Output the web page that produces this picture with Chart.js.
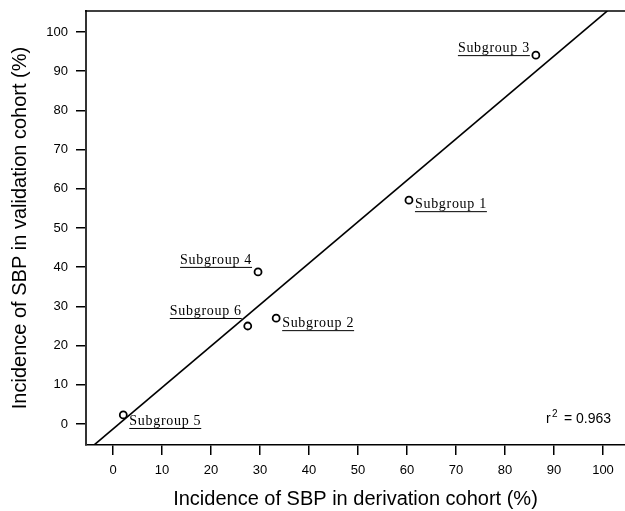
<!DOCTYPE html>
<html>
<head>
<meta charset="utf-8">
<script src="https://cdn.jsdelivr.net/npm/chart.js@4/dist/chart.umd.min.js"></script>
<style>
  body { margin: 0; background: #fff; overflow: hidden; }
  canvas { display: block; }
</style>
</head>
<body>
<canvas id="scatterChart" width="625" height="511"></canvas>
<script>
// Data
const subgroups = ["Subgroup 1", "Subgroup 2", "Subgroup 3", "Subgroup 4", "Subgroup 5", "Subgroup 6"];
const derivation = [60.4, 33.3, 86.3, 29.6, 2.1, 27.5];
const validation = [57.1, 27.0, 94.1, 38.8, 2.3, 25.0];
const fitX = [-3.9, 100.9];
const fitY = [-5.4, 105.4];
const xTicks = [0, 10, 20, 30, 40, 50, 60, 70, 80, 90, 100];
const yTicks = [0, 10, 20, 30, 40, 50, 60, 70, 80, 90, 100];
const rSquared = "0.963";

// where each subgroup label sits next to its point (px)
const labelPlace = [
  { side: "right", dy: 11 },
  { side: "right", dy: 12 },
  { side: "left", dy: 0 },
  { side: "left", dy: -5 },
  { side: "right", dy: 13 },
  { side: "left", dy: -8 },
];

const extras = {
  id: "extras",
  afterDatasetsDraw(chart) {
    const ctx = chart.ctx;
    const area = chart.chartArea;
    ctx.save();

    // top frame line
    ctx.strokeStyle = "#000";
    ctx.lineWidth = 1.5;
    ctx.beginPath();
    ctx.moveTo(area.left - 1, area.top);
    ctx.lineTo(area.right, area.top);
    ctx.stroke();

    // subgroup labels, underlined
    const meta = chart.getDatasetMeta(0);
    ctx.font = "14px 'Liberation Serif'";
    ctx.letterSpacing = "0.7px";
    ctx.fillStyle = "#000";
    ctx.textBaseline = "alphabetic";
    ctx.lineWidth = 1;
    meta.data.forEach((pt, i) => {
      const place = labelPlace[i];
      const w = ctx.measureText(subgroups[i]).width;
      const x0 = place.side === "right" ? pt.x + 6 : pt.x - 6 - w;
      const uy = pt.y + place.dy;
      ctx.textAlign = "left";
      ctx.fillText(subgroups[i], x0, uy - 3);
      ctx.beginPath();
      ctx.moveTo(x0, uy + 0.5);
      ctx.lineTo(x0 + w, uy + 0.5);
      ctx.stroke();
    });

    // r squared note
    ctx.letterSpacing = "0px";
    ctx.fillStyle = "#000";
    ctx.font = "14px Arial";
    ctx.textAlign = "right";
    const base = area.bottom - 22;
    ctx.fillText("= " + rSquared, area.right - 14, base);
    ctx.textAlign = "left";
    ctx.fillText("r", area.right - 79, base);
    ctx.font = "10px Arial";
    ctx.fillText("2", area.right - 73, base - 6);
    ctx.restore();
  },
};

const axisFont = { family: "Arial", size: 13 };
const titleFont = { family: "Arial", size: 20 };

const scatterChart = new Chart(document.getElementById("scatterChart"), {
  type: "scatter",
  data: {
    datasets: [
      {
        label: "Subgroups",
        data: derivation.map((x, i) => ({ x: x, y: validation[i] })),
        pointStyle: "circle",
        pointRadius: 3.5,
        pointBorderWidth: 1.8,
        pointBorderColor: "#000",
        pointBackgroundColor: "rgba(0,0,0,0)",
      },
      {
        label: "Fit",
        data: fitX.map((x, i) => ({ x: x, y: fitY[i] })),
        showLine: true,
        pointRadius: 0,
        borderColor: "#000",
        borderWidth: 1.6,
      },
    ],
  },
  plugins: [extras],
  options: {
    responsive: false,
    animation: false,
    layout: { autoPadding: false, padding: { top: 11, right: 0, bottom: 0, left: 0 } },
    scales: {
      x: {
        type: "linear",
        min: -5.51,
        max: 104.49,
        afterBuildTicks: (s) => { s.ticks = xTicks.map((v) => ({ value: v })); },
        afterFit: (s) => { s.height = 66; s.paddingLeft = 0; s.paddingRight = 0; },
        grid: {
          drawOnChartArea: false,
          drawTicks: true,
          tickLength: 10,
          color: "#000",
          lineWidth: 1.5,
        },
        border: { display: true, color: "#000", width: 1.5 },
        ticks: { color: "#000", font: axisFont, padding: 8, maxRotation: 0, autoSkip: false },
        title: {
          display: true,
          text: "Incidence of SBP in derivation cohort (%)",
          color: "#000",
          font: titleFont,
          padding: { top: 8, bottom: 0 },
        },
      },
      y: {
        type: "linear",
        min: -5.36,
        max: 105.36,
        afterBuildTicks: (s) => { s.ticks = yTicks.map((v) => ({ value: v })); },
        afterFit: (s) => { s.width = 86; s.paddingTop = 0; s.paddingBottom = 0; },
        grid: {
          drawOnChartArea: false,
          drawTicks: true,
          tickLength: 10,
          color: "#000",
          lineWidth: 1.5,
        },
        border: { display: true, color: "#333", width: 2 },
        ticks: { color: "#000", font: axisFont, padding: 8, autoSkip: false },
        title: {
          display: true,
          text: "Incidence of SBP in validation cohort (%)",
          color: "#000",
          font: titleFont,
          padding: { top: 8, bottom: 0 },
        },
      },
    },
    plugins: {
      legend: { display: false },
      tooltip: { enabled: false },
    },
  },
});
</script>
</body>
</html>
